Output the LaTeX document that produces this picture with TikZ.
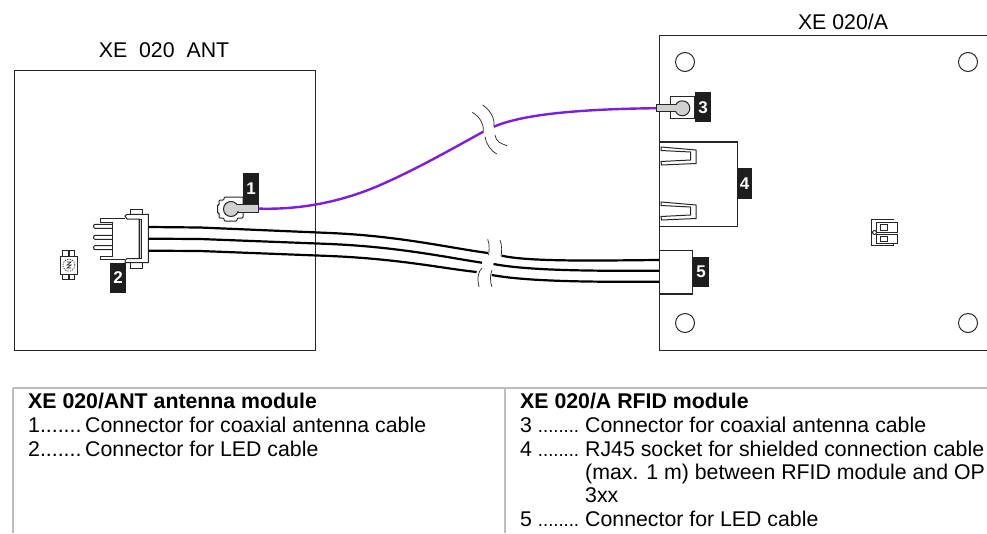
\documentclass[tikz,border=0pt]{standalone}
\usepackage{fontspec}
\setmainfont{Liberation Sans}
\definecolor{purp}{HTML}{7A1FE0}
\definecolor{lab}{HTML}{1E1E1E}
\definecolor{fillg}{HTML}{D0D0D0}
\definecolor{rule}{HTML}{BDBDBD}
\newcommand{\dotrun}[1]{#1 {\fontsize{18.5}{18.5}\selectfont ........}}
\tikzset{
 x=1pt,y=-1pt,
 lbl/.style={fill=lab,text=white,font=\fontsize{17}{17}\selectfont\bfseries,inner sep=0pt,anchor=center,minimum width=15.5pt,minimum height=30.5pt},
 outl/.style={draw=black!85,line width=1.2pt},
 thin/.style={draw=black!85,line width=1pt},
 cable/.style={draw=black,line width=2.2pt},
 coax/.style={draw=purp,line width=2.4pt},
 brk/.style={draw=black!85,line width=0.7pt},
 txt/.style={font=\fontsize{21.3}{21.3}\selectfont,anchor=base west,inner sep=0pt},
 btxt/.style={font=\fontsize{21.3}{21.3}\selectfont\bfseries,anchor=base west,inner sep=0pt},
 ttl/.style={font=\fontsize{21.3}{21.3}\selectfont,anchor=center,inner sep=0pt},
}
\begin{document}
\begin{tikzpicture}
\useasboundingbox (0,0) rectangle (987,533);
\clip (0,0) rectangle (987,533);
\fill[white] (0,0) rectangle (987,533);
% modules
\node[outl,draw,anchor=north west,minimum width=301.5pt,minimum height=280pt,inner sep=0pt] (ant) at (13.5,70) {};
\node[outl,draw,anchor=north west,minimum width=340pt,minimum height=315pt,inner sep=0pt] (rfid) at (659,35) {};
\node[ttl] (tant) at (164,50) {XE\hspace{6pt} 020\hspace{6pt} ANT};
\node[ttl] (trfid) at (843,22) {XE 020/A};
% holes
\foreach \n/\p in {a/{685,62},b/{968,62},c/{685,323},d/{968,323}}
  \node[thin,draw,circle,minimum size=19pt,inner sep=0pt] (h\n) at (\p) {};
% LED module
\foreach \xa/\xb in {62.7/68,69.3/74.7}{
 \draw[thin] (\xa,256) -- (\xa,250) -- (\xb,250) -- (\xb,256);
 \draw[thin] (\xa,274.5) -- (\xa,279.5) -- (\xb,279.5) -- (\xb,274.5);}
\draw[thin] (60,256) rectangle (77.7,274.5);
\draw[draw=black!85,line width=0.7pt,dash pattern=on 1.2pt off 1.2pt] (68.9,265.2) circle (6);
\draw[draw=black!85,line width=0.6pt] (67,262) -- (71,262) -- (67,265) -- (71,265) -- (67,268) -- (71,268);
% connector 2
\foreach \y in {226.3,237.3,247.7}{
  \draw[thin] (112.7,\y-2) -- (95,\y-2) to[out=180,in=180,looseness=1.2] (95,\y+2) -- (112.7,\y+2);}
\draw[thin] (125,218.3) -- (100,218.3) -- (100,222.3) -- (112.7,222.3) -- (112.7,256) -- (100,256) -- (100,259.3) -- (125,259.3);
\draw[thin] (130.7,209) rectangle (142.7,214.3);
\draw[thin] (130.7,262.7) rectangle (142.7,268.3);
\draw[thin,fill=white] (125,216) -- (127,214.3) -- (148.3,214.3) -- (148.3,262.7) -- (125,262.7) -- (125,260.5) -- (127,258.5) -- (139,258.5) -- (139,219) -- (127,219) -- cycle;
\draw[thin,fill=fillg] (139,219) -- (141.7,219) -- (141.7,258.5) -- (139,258.5) -- cycle;
\coordinate (c2a) at (148.3,227);
\coordinate (c2b) at (148.3,238.7);
\coordinate (c2c) at (148.3,250.7);
% connector 1
\draw[thin,rounded corners=1pt] (243,197) -- (224,197) -- (224,200) -- (219,200) -- (219,205) -- (217.5,205) -- (217.5,213) -- (219,213) -- (219,218) -- (224,218) -- (224,221) -- (237,221) -- (237,218) -- (243,218) -- (243,197);
\draw[thin,fill=fillg] (236,204.3) -- (258.5,204.3) -- (258.5,212) -- (236,212) -- cycle;
\node[thin,draw,fill=fillg,circle,minimum size=15pt,inner sep=0pt] (c1) at (231,209) {};
\fill[fillg] (233,205) rectangle (240,211.3);
\coordinate (c1e) at (258.5,208.6);
% connector 3
\draw[thin,fill=white] (670.7,96.7) rectangle (694,118.3);
\draw[thin,fill=fillg] (656,104.2) rectangle (680,111.8);
\node[thin,draw,fill=fillg,circle,minimum size=15pt,inner sep=0pt] (c3) at (682.3,108.3) {};
\fill[fillg] (672,105) rectangle (680,111);
\coordinate (c3e) at (656,108.2);
% RJ45
\node[outl,draw,fill=white,anchor=north west,minimum width=77.7pt,minimum height=84.4pt,inner sep=0pt] (rj) at (659,141.3) {};
\foreach \d in {0,55}{
 \draw[thin,fill=white,yshift=-\d pt] (661,147) -- (696,150) -- (696,163.5) -- (661.5,165) -- (661,161.5) -- (690.5,160) -- (690.5,152) -- (661,150.5) -- cycle;}
% connector 5
\node[outl,draw,fill=white,anchor=north west,minimum width=32.5pt,minimum height=43.3pt,inner sep=0pt] (c5) at (659,250) {};
% labels
\node[lbl] (l1) at (251,188.5) {1};
\node[lbl] (l2) at (118,278) {2};
\node[lbl] (l3) at (703,107.2) {3};
\node[lbl] (l4) at (744.7,183.3) {4};
\node[lbl] (l5) at (701,272) {5};
% DIP
\draw[thin] (871,219) rectangle (893,245);
\fill[white] (889,220) rectangle (895,244);
\draw[thin] (876.5,222.5) rectangle (897,232.5);
\draw[thin] (876.5,234.5) rectangle (897,243);
\draw[thin] (880,224.5) rectangle (887,230.5);
\draw[thin] (880,236) rectangle (887,241.5);
\draw[thin,fill=white] (874.5,232.5) circle (2);
% purple cable
\coordinate (p1) at (483.3,131.7);
\coordinate (p2) at (494,126.7);
\draw[coax] (c1e) .. controls (305,210) and (345,200) .. (378,186) .. controls (415,170) and (450,150) .. (p1);
\draw[coax] (p2) .. controls (525,113) and (590,109) .. (c3e);
% LED cables
\coordinate (a1) at (488,253);\coordinate (b1) at (482,262.7);\coordinate (d1) at (476.7,272);
\coordinate (a2) at (501.7,255.7);\coordinate (b2) at (493.5,264);\coordinate (d2) at (491.7,275);
\coordinate (a3) at (659,260);\coordinate (b3) at (659,270.7);\coordinate (d3) at (659,281.7);
\draw[cable] (c2a) -- (200,227.5) -- (330,233) .. controls (400,236) and (450,248) .. (a1);
\draw[cable] (c2b) -- (200,239) -- (330,244) .. controls (400,247) and (450,258) .. (b1);
\draw[cable] (c2c) -- (200,251) -- (330,256) .. controls (400,259) and (440,268) .. (d1);
\draw[cable] (a2) .. controls (530,262) and (600,260.5) .. (a3);
\draw[cable] (b2) .. controls (530,271) and (600,271) .. (b3);
\draw[cable] (d2) .. controls (530,282) and (600,282) .. (d3);
% break marks
\draw[brk] (472.3,112.3) .. controls (480,117) and (484,124) .. (483.3,131.7);
\draw[brk] (482.7,105) .. controls (490,110) and (495,118) .. (494,126.7);
\draw[brk] (485,136.7) .. controls (486,144) and (491,151) .. (496.7,154);
\draw[brk] (495,135) .. controls (496,142) and (501,143.5) .. (507,145.7);
\draw[brk] (487.7,239.3) .. controls (490,245) and (489,252) .. (488.5,255);
\draw[brk] (500,240) .. controls (502,245) and (502,252) .. (501,256);
\draw[brk] (482,268) .. controls (478,272) and (477,278) .. (479,287);
\draw[brk] (492,270) .. controls (490,275) and (490,282) .. (492,287);
% table
\draw[rule,line width=1.2pt] (13,388) -- (987,388);
\draw[rule,line width=1.2pt] (13,388) -- (13,533);
\draw[rule,line width=1.2pt] (505,388) -- (505,533);
\node[btxt] (t1) at (28,408) {XE 020/ANT antenna module};
\node[txt] (t2) at (28,432) {1.......};
\node[txt] (t3) at (85,432) {Connector for coaxial antenna cable};
\node[txt] (t4) at (28,456) {2.......};
\node[txt] (t5) at (85,456) {Connector for LED cable};
\node[btxt] (t6) at (520,408) {XE 020/A RFID module};
\node[txt] (t7) at (520,432) {\dotrun{3}};
\node[txt] (t8) at (585,432) {Connector for coaxial antenna cable};
\node[txt] (t9) at (520,456) {\dotrun{4}};
\node[txt] (t10) at (585,456) {RJ45 socket for shielded connection cable};
\node[txt] (t11) at (585,479) {(max. 1 m) between RFID module and OP};
\node[txt] (t12) at (585,502) {3xx};
\node[txt] (t13) at (520,526) {\dotrun{5}};
\node[txt] (t14) at (585,526) {Connector for LED cable};
\end{tikzpicture}
\end{document}
